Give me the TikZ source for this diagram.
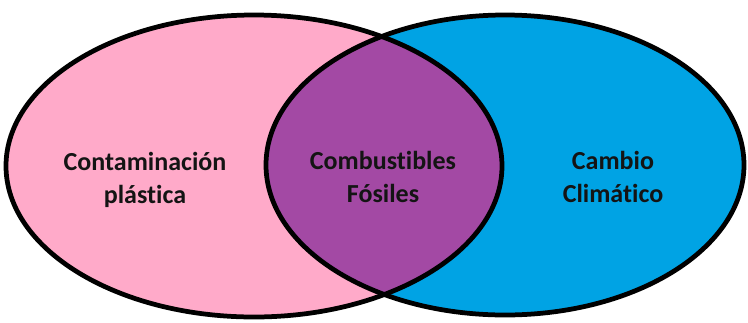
\documentclass[tikz,border=0pt]{standalone}
\usepackage{fontspec}
\setmainfont[Ligatures={NoCommon}]{Carlito}
\usetikzlibrary{positioning}
\definecolor{softpink}{RGB}{255,170,201}
\definecolor{skyblue}{RGB}{0,163,228}
\definecolor{plum}{RGB}{163,73,164}

\begin{document}
\begin{tikzpicture}[x=0.02cm,y=-0.02cm,line join=round,
rim/.style={draw=black,line width=0.095cm},
tag/.style={align=center,font=\bfseries\fontsize{14.8}{18.7}\selectfont,text=black!92,inner sep=0pt}]
\useasboundingbox (0,0) rectangle (748,322);
\fill[softpink] (254,166) ellipse [x radius=248,y radius=151];
\fill[skyblue] (505,165) ellipse [x radius=239,y radius=150];
\begin{scope}
\clip (254,166) ellipse [x radius=248,y radius=151];
\fill[plum] (505,165) ellipse [x radius=239,y radius=150];
\end{scope}
\draw[rim] (254,166) ellipse [x radius=248,y radius=151];
\draw[rim] (505,165) ellipse [x radius=239,y radius=150];
\node[tag] (plastic) at (145,180) {Contaminación\\plástica};
\node[tag] (fossil) at (383,177) {Combustibles\\Fósiles};
\node[tag] (climate) at (613,177) {Cambio\\Climático};
\end{tikzpicture}
\end{document}
